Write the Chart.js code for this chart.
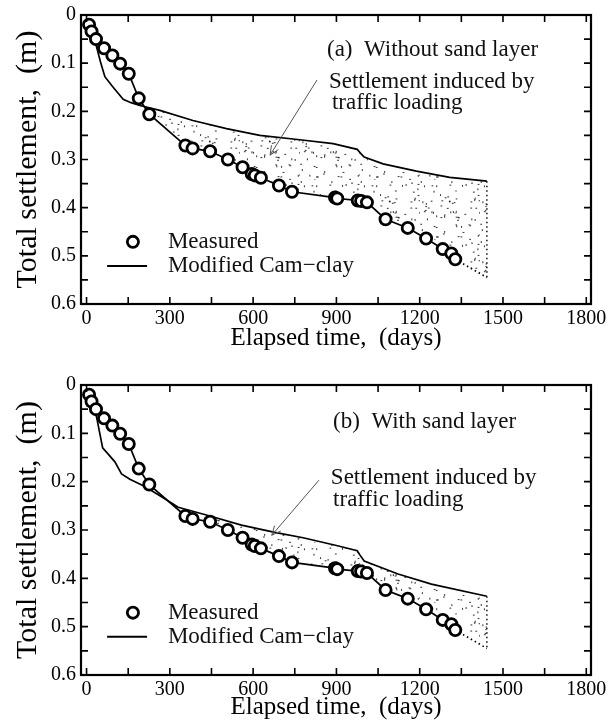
<!DOCTYPE html>
<html><head><meta charset="utf-8">
<script src="https://cdn.jsdelivr.net/npm/chart.js@4.4.0/dist/chart.umd.min.js"></script>
<style>
html,body{margin:0;padding:0;background:#fff;}
#wrap{position:relative;width:611px;height:727px;background:#fff;}
.c{position:absolute;left:0;width:611px;}
</style></head><body>
<div id="wrap">
<div class="c" style="top:0;height:363px"><canvas id="chartA" width="611" height="363"></canvas></div>
<div class="c" style="top:363px;height:364px"><canvas id="chartB" width="611" height="364"></canvas></div>
</div>
<script>
// ---- tick labels ----
const xTicks = [0, 300, 600, 900, 1200, 1500, 1800];
const xTickLabels = ['0', '300', '600', '900', '1200', '1500', '1800'];
const yTicks = [0, 0.1, 0.2, 0.3, 0.4, 0.5, 0.6];
const yTickLabels = ['0', '0.1', '0.2', '0.3', '0.4', '0.5', '0.6'];

// ---- measured settlement (same in both panels) ----
const measuredDays = [9, 18, 34, 63, 93, 121, 152, 188, 226, 356, 382, 445, 509, 562, 595, 606, 628, 693, 740, 895, 903, 977, 989, 1010, 1077, 1157, 1223, 1283, 1314, 1328];
const measuredSettlement = [0.020, 0.034, 0.050, 0.069, 0.084, 0.101, 0.122, 0.173, 0.206, 0.271, 0.277, 0.283, 0.300, 0.316, 0.330, 0.333, 0.338, 0.354, 0.367, 0.379, 0.381, 0.385, 0.386, 0.389, 0.424, 0.442, 0.464, 0.486, 0.495, 0.507];

// ---- curve including traffic loading (through measured, dotted extension) ----
const trafficDays = measuredDays.concat([1442]);
const trafficSettlement = measuredSettlement.concat([0.545]);

// ---- Modified Cam-clay, (a) without sand layer ----
const camDaysA = [0, 20, 36, 50, 66, 90, 110, 132, 160, 192, 264, 383, 504, 624, 768, 888, 975, 990, 1000, 1068, 1188, 1308, 1442];
const camSettlementA = [0.008, 0.040, 0.066, 0.097, 0.128, 0.146, 0.160, 0.175, 0.182, 0.188, 0.198, 0.219, 0.236, 0.250, 0.259, 0.267, 0.279, 0.289, 0.295, 0.309, 0.324, 0.337, 0.345];

// ---- Modified Cam-clay, (b) with sand layer ----
const camDaysB = [0, 12, 36, 58, 78, 102, 126, 156, 210, 270, 330, 438, 558, 678, 780, 900, 975, 985, 1000, 1122, 1242, 1442];
const camSettlementB = [0.008, 0.017, 0.066, 0.130, 0.143, 0.159, 0.184, 0.195, 0.210, 0.231, 0.253, 0.270, 0.290, 0.305, 0.316, 0.332, 0.343, 0.352, 0.364, 0.391, 0.412, 0.437];

const toPts = (xs, ys) => xs.map((x, i) => ({x: x, y: ys[i]}));

// stipple texture for the traffic-induced band (deterministic hash, texture only)
function makeStipple() {
  const S = 60;
  const c = document.createElement('canvas');
  c.width = S; c.height = S;
  const g = c.getContext('2d');
  g.fillStyle = 'rgba(20,20,20,0.8)';
  const h = k => { const s = Math.sin(k * 12.9898 + 78.233) * 43758.5453; return s - Math.floor(s); };
  for (let i = 0; i < 80; i++) {
    const px = h(i * 2 + 1) * S;
    const py = h(i * 2 + 2) * S;
    const vert = h(i * 7 + 3) > 0.5;
    g.fillRect(px, py, vert ? 1.1 : 1.8, vert ? 1.9 : 1.1);
  }
  return g.createPattern(c, 'repeat');
}
const stipple = makeStipple();

const SERIF = "'Liberation Serif', 'Times New Roman', serif";

const decor = {
  id: 'decor',
  afterDraw(chart, args, o) {
    const {ctx, chartArea: a, scales: {x, y}} = chart;
    const X = v => x.getPixelForValue(v), Y = v => y.getPixelForValue(v);
    ctx.save();
    // inward ticks on all four sides
    ctx.strokeStyle = '#000'; ctx.lineWidth = 1.6;
    ctx.beginPath();
    for (let i = 0; i < xTicks.length; i++) {
      const vals = [xTicks[i]];
      if (i < xTicks.length - 1) vals.push((xTicks[i] + xTicks[i + 1]) / 2);
      vals.forEach(v => {
        const p = X(v);
        ctx.moveTo(p, a.bottom); ctx.lineTo(p, a.bottom - 7);
        ctx.moveTo(p, a.top); ctx.lineTo(p, a.top + 7);
      });
    }
    for (let i = 0; i < yTicks.length; i++) {
      const vals = [yTicks[i]];
      if (i < yTicks.length - 1) vals.push((yTicks[i] + yTicks[i + 1]) / 2);
      vals.forEach(v => {
        const p = Y(v);
        ctx.moveTo(a.left, p); ctx.lineTo(a.left + 7, p);
        ctx.moveTo(a.right, p); ctx.lineTo(a.right - 7, p);
      });
    }
    ctx.stroke();
    // frame
    ctx.lineWidth = 2.2;
    ctx.strokeRect(a.left, a.top, a.right - a.left, a.bottom - a.top);

    // texts
    ctx.fillStyle = '#111';
    ctx.textBaseline = 'middle';
    ctx.textAlign = 'left';
    ctx.font = '23px ' + SERIF;
    o.notes.forEach(n => ctx.fillText(n.text, X(n.x), Y(n.y)));

    // arrow
    const ar = o.arrow;
    const x1 = X(ar.from[0]), y1 = Y(ar.from[1]), x2 = X(ar.to[0]), y2 = Y(ar.to[1]);
    ctx.strokeStyle = '#555'; ctx.lineWidth = 1;
    ctx.beginPath(); ctx.moveTo(x1, y1); ctx.lineTo(x2, y2);
    const ang = Math.atan2(y2 - y1, x2 - x1);
    [0.42, -0.42].forEach(d => {
      ctx.moveTo(x2, y2);
      ctx.lineTo(x2 - 10 * Math.cos(ang + d), y2 - 10 * Math.sin(ang + d));
    });
    ctx.stroke();

    // legend
    const lg = o.legend;
    ctx.beginPath();
    ctx.arc(X(lg.marker[0]), Y(lg.marker[1]), 5.6, 0, Math.PI * 2);
    ctx.fillStyle = '#fff'; ctx.fill();
    ctx.lineWidth = 2.8; ctx.strokeStyle = '#000'; ctx.stroke();
    ctx.beginPath();
    ctx.moveTo(X(lg.line[0]), Y(lg.line[2])); ctx.lineTo(X(lg.line[1]), Y(lg.line[2]));
    ctx.lineWidth = 2; ctx.stroke();
    ctx.fillStyle = '#111';
    ctx.font = '23px ' + SERIF;
    ctx.fillText(chart.data.datasets[0].label, X(lg.textX), Y(lg.marker[1]));
    ctx.fillText(chart.data.datasets[2].label, X(lg.textX), Y(lg.line[2]));
    ctx.restore();
  }
};

function buildChart(id, camDays, camVals, topPad, xHeight, xTitlePad, notes, arrow) {
  const lastDay = trafficDays[trafficDays.length - 1];
  return new Chart(document.getElementById(id), {
    type: 'line',
    data: {
      datasets: [
        { label: 'Measured', data: toPts(measuredDays, measuredSettlement), showLine: false,
          pointRadius: 5.6, pointHoverRadius: 5.6, pointBorderWidth: 2.8, pointBorderColor: '#000',
          pointBackgroundColor: '#fff', fill: false },
        { label: 'Traffic loading', data: toPts(trafficDays, trafficSettlement),
          borderColor: '#000', borderWidth: 1.7, pointRadius: 0,
          fill: { target: 2, above: 'rgba(0,0,0,0)', below: stipple },
          segment: { borderDash: c => (c.p1DataIndex === trafficDays.length - 1 ? [1.5, 3] : undefined) } },
        { label: 'Modified Cam\u2212clay', data: toPts(camDays, camVals),
          borderColor: '#000', borderWidth: 1.7, pointRadius: 0, fill: false },
        { label: 'edge', data: [{x: lastDay, y: camVals[camVals.length - 1]}, {x: lastDay, y: trafficSettlement[trafficSettlement.length - 1]}],
          borderColor: '#000', borderWidth: 1.4, borderDash: [1.5, 3], pointRadius: 0, fill: false }
      ]
    },
    options: {
      responsive: false, animation: false, devicePixelRatio: 1,
      layout: { padding: { top: topPad, right: 20, left: 0, bottom: 0 } },
      plugins: {
        legend: { display: false }, tooltip: { enabled: false },
        decor: {
          notes: notes, arrow: arrow,
          legend: { marker: [167, 0.471], line: [74, 218, 0.521], textX: 293 }
        }
      },
      scales: {
        x: {
          type: 'linear', min: -20, max: 1817,
          grid: { display: false, drawTicks: false }, border: { display: false },
          afterBuildTicks: s => { s.ticks = xTicks.map(v => ({value: v})); },
          afterFit: s => { s.height = xHeight; s.paddingLeft = 0; s.paddingRight = 0; },
          ticks: { color: '#000', padding: 3, maxRotation: 0, autoSkip: false,
                   font: { family: SERIF, size: 20 },
                   callback: (v, i) => xTickLabels[i] },
          title: { display: true, text: 'Elapsed time,  (days)', color: '#000',
                   font: { family: SERIF, size: 25, lineHeight: 1 },
                   padding: { top: 0, bottom: xTitlePad } }
        },
        y: {
          type: 'linear', min: 0, max: 0.6, reverse: true,
          grid: { display: false, drawTicks: false }, border: { display: false },
          afterBuildTicks: s => { s.ticks = yTicks.map(v => ({value: v})); },
          afterFit: s => { s.width = 81; s.paddingTop = 0; s.paddingBottom = 0; },
          ticks: { color: '#000', padding: 5, autoSkip: false,
                   font: { family: SERIF, size: 20 },
                   callback: (v, i) => yTickLabels[i] },
          title: { display: true, text: 'Total settlement,  (m)', color: '#000',
                   font: { family: SERIF, size: 30, lineHeight: 1 },
                   padding: { top: 13, bottom: 0 } }
        }
      }
    },
    plugins: [decor]
  });
}

buildChart('chartA', camDaysA, camSettlementA, 15, 59, 12,
  [ { text: '(a)  Without sand layer', x: 866, y: 0.073 },
    { text: 'Settlement induced by', x: 873, y: 0.139 },
    { text: 'traffic loading', x: 884, y: 0.183 } ],
  { from: [830, 0.135], to: [661, 0.291] });

buildChart('chartB', camDaysB, camSettlementB, 22, 52, 7,
  [ { text: '(b)  With sand layer', x: 888, y: 0.076 },
    { text: 'Settlement induced by', x: 880, y: 0.193 },
    { text: 'traffic loading', x: 888, y: 0.238 } ],
  { from: [837, 0.197], to: [667, 0.311] });
</script>
</body></html>
